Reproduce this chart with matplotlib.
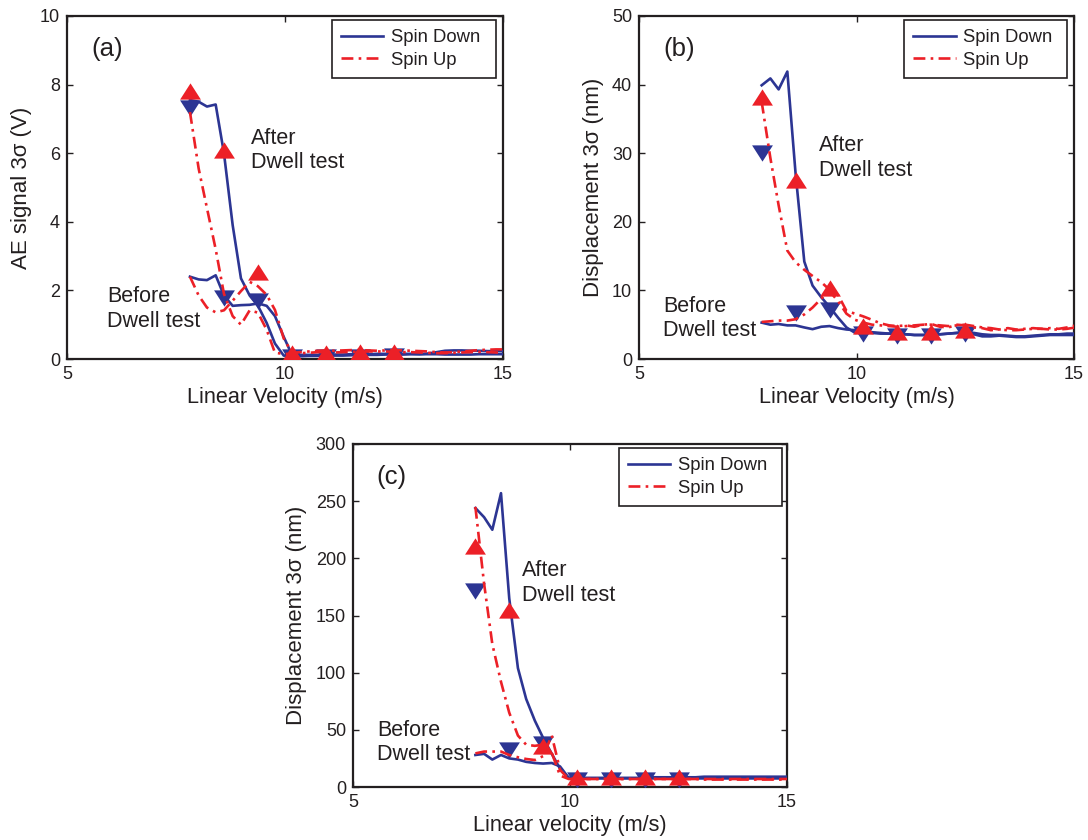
import matplotlib
matplotlib.use("Agg")
import matplotlib.pyplot as plt
from matplotlib.lines import Line2D

# linear velocity grid (m/s) shared by every sweep
velocity = [7.82, 8.02, 8.21, 8.41, 8.60, 8.80, 8.99, 9.19, 9.38, 9.58,
            9.77, 9.97, 10.16, 10.36, 10.55, 10.75, 10.94, 11.14, 11.33, 11.53,
            11.72, 11.92, 12.11, 12.31, 12.50, 12.70, 12.89, 13.09, 13.28, 13.48,
            13.67, 13.87, 14.06, 14.26, 14.45, 14.65, 14.84, 15.04]
# velocities where the averaged points are marked
marker_velocity = [7.82, 8.60, 9.38, 10.16, 10.94, 11.72, 12.50]

# (a) AE signal 3sigma (V)
ae_down_after = [7.55, 7.50, 7.36, 7.42, 6.00, 3.90, 2.35, 1.85, 1.55, 1.05,
                 0.45, 0.10, 0.08, 0.08, 0.09, 0.09, 0.10, 0.10, 0.10, 0.11,
                 0.11, 0.12, 0.12, 0.13, 0.13, 0.13, 0.14, 0.14, 0.16, 0.20,
                 0.24, 0.25, 0.25, 0.24, 0.24, 0.23, 0.23, 0.23]
ae_down_before = [2.40, 2.32, 2.30, 2.44, 1.85, 1.55, 1.57, 1.58, 1.62, 1.55,
                  1.25, 0.65, 0.12, 0.12, 0.12, 0.12, 0.13, 0.13, 0.13, 0.14,
                  0.14, 0.14, 0.15, 0.15, 0.15, 0.15, 0.15, 0.14, 0.14, 0.14,
                  0.13, 0.13, 0.13, 0.13, 0.14, 0.14, 0.14, 0.14]
ae_up_after = [7.20, 5.55, 4.40, 3.20, 1.90, 1.25, 1.00, 1.42, 1.35, 0.85,
               0.18, 0.15, 0.15, 0.17, 0.18, 0.20, 0.20, 0.19, 0.20, 0.21,
               0.21, 0.22, 0.22, 0.22, 0.21, 0.20, 0.20, 0.19, 0.18, 0.17,
               0.17, 0.18, 0.19, 0.20, 0.21, 0.20, 0.19, 0.18]
ae_up_before = [2.40, 1.85, 1.50, 1.36, 1.42, 1.70, 1.98, 2.25, 2.12, 1.87,
                1.43, 0.60, 0.18, 0.20, 0.22, 0.24, 0.25, 0.24, 0.25, 0.26,
                0.26, 0.25, 0.24, 0.25, 0.26, 0.25, 0.24, 0.23, 0.22, 0.20,
                0.19, 0.20, 0.22, 0.24, 0.26, 0.27, 0.28, 0.28]
ae_down_marks = [7.31, 1.77, 1.68, 0.05, 0.06, 0.07, 0.08]
ae_up_marks = [7.80, 6.10, 2.55, 0.18, 0.18, 0.20, 0.20]

# (b) displacement 3sigma (nm)
db_down_after = [39.9, 40.9, 39.3, 41.9, 27.0, 14.2, 10.7, 9.0, 7.6, 6.0,
                 4.6, 3.8, 3.9, 3.8, 3.7, 3.7, 3.6, 3.6, 3.5, 3.5,
                 3.5, 3.6, 3.7, 3.8, 3.9, 3.6, 3.3, 3.3, 3.4, 3.3,
                 3.2, 3.2, 3.3, 3.4, 3.5, 3.5, 3.5, 3.5]
db_down_before = [5.3, 5.0, 5.1, 4.9, 4.9, 4.6, 4.35, 4.7, 4.8, 4.5,
                  4.3, 4.2, 4.0, 3.9, 3.8, 3.7, 3.7, 3.6, 3.5, 3.5,
                  3.6, 3.6, 3.7, 3.8, 3.9, 3.8, 3.6, 3.5, 3.5, 3.4,
                  3.3, 3.3, 3.4, 3.5, 3.6, 3.6, 3.7, 3.7]
db_up_after = [37.5, 29.3, 22.4, 15.8, 14.1, 13.0, 12.1, 11.2, 10.1, 9.3,
               7.0, 6.6, 6.2, 5.7, 5.2, 4.9, 4.8, 4.9, 4.7, 5.0,
               5.1, 4.7, 4.6, 5.0, 4.9, 4.6, 4.5, 4.2, 4.3, 4.5,
               4.3, 4.4, 4.5, 4.4, 4.5, 4.4, 4.6, 4.9]
db_up_before = [5.4, 5.5, 5.6, 5.6, 5.8, 6.5, 7.5, 8.8, 9.9, 8.4,
                6.6, 5.7, 5.3, 5.0, 4.9, 4.8, 4.7, 4.8, 4.9, 5.0,
                5.0, 4.9, 4.8, 4.9, 5.0, 4.8, 4.6, 4.5, 4.3, 4.2,
                4.2, 4.3, 4.4, 4.4, 4.3, 4.3, 4.4, 4.6]
db_down_marks = [30.0, 6.7, 7.1, 3.7, 3.3, 3.3, 3.6]
db_up_marks = [38.2, 26.1, 10.3, 4.8, 3.9, 3.9, 4.2]

# (c) displacement 3sigma (nm)
dc_down_after = [244, 236, 225, 257, 165, 104, 77, 58, 43, 29,
                 16, 8, 8, 8, 8, 8, 8, 8, 8, 8,
                 8, 8.5, 8.5, 8.5, 8.5, 8.5, 8.5, 9, 9, 9,
                 9, 9, 9, 9, 9, 9, 9, 9]
dc_down_before = [28, 29, 24, 28, 25, 24, 22, 21, 20.5, 21,
                  18, 8, 7.5, 7.5, 7.5, 7.5, 7.5, 7.5, 7.5, 7.5,
                  7.5, 7.5, 7.5, 7.5, 7.5, 7.5, 7.5, 7.5, 7.5, 7.5,
                  7.5, 7.5, 7.5, 7.5, 7.5, 7.5, 7.5, 7.5]
dc_up_after = [245, 178, 125, 92, 65, 45, 37, 36, 37, 30,
               10, 7, 7, 7, 7, 7, 7, 7, 7, 7,
               7, 7, 7, 7, 7, 7, 7, 6.5, 6.5, 6.5,
               6.5, 6.5, 6.5, 6.5, 6.5, 6.5, 6.5, 6.5]
dc_up_before = [29.4, 31, 31, 31, 28, 26, 24.5, 23.6, 27, 45,
                15, 7, 7, 7, 7, 7, 7, 7, 7, 7,
                7, 7, 7, 7, 7, 7, 7, 7, 7, 7,
                7, 7, 7, 7, 7, 7, 7, 7]
dc_down_marks = [171, 32, 38, 6, 6, 6, 6]
dc_up_marks = [211, 155, 36, 9, 9, 9, 9]

BLUE = '#2c3593'
RED = '#ec2027'
INK = '#231f20'
LW = 1.9
DASHDOT = (0, (4.5, 2, 1, 2))
# wide, flat triangles
TRI_UP = [(-1, -0.78), (1, -0.78), (0, 0.78), (-1, -0.78)]
TRI_DOWN = [(-1, 0.78), (1, 0.78), (0, -0.78), (-1, 0.78)]

plt.rcParams.update({'font.family': ['Liberation Sans', 'DejaVu Sans'],
                     'font.size': 12, 'text.color': INK,
                     'axes.linewidth': 1.6, 'axes.edgecolor': INK,
                     'axes.labelcolor': INK})

fig = plt.figure(figsize=(10.88, 8.4), dpi=100)
ax_a = fig.add_axes([67/1088, 481/840, 436/1088, 343/840])
ax_b = fig.add_axes([639/1088, 481/840, 435/1088, 343/840])
ax_c = fig.add_axes([353/1088, 53/840, 434/1088, 343/840])


def panel(ax, down_after, down_before, up_after, up_before, down_marks, up_marks,
          ymax, ystep, ylab, xlab, tag, after_y, after_x, before_x, before_y, leg_x0):
    for ys in (down_after, down_before):
        ax.plot(velocity, ys, color=BLUE, lw=LW, zorder=3)
    ax.plot(marker_velocity, down_marks, ls='none', marker=TRI_DOWN, ms=15,
            color=BLUE, mew=0, zorder=4)
    for ys in (up_after, up_before):
        ax.plot(velocity, ys, color=RED, lw=LW, ls=DASHDOT, zorder=5)
    ax.plot(marker_velocity, up_marks, ls='none', marker=TRI_UP, ms=15,
            color=RED, mew=0, zorder=6)

    ax.set_xlim(5, 15)
    ax.set_ylim(0, ymax)
    ax.set_xticks([5, 10, 15])
    ax.set_yticks(list(range(0, ymax + 1, ystep)))
    ax.tick_params(direction='in', top=True, right=True, length=4, width=1,
                   labelsize=13, pad=5, color=INK, labelcolor=INK)
    ax.set_xlabel(xlab, fontsize=15.6, labelpad=3)
    ax.set_ylabel(ylab, fontsize=16, labelpad=6)

    ax.text(0.055, 0.905, tag, transform=ax.transAxes, fontsize=18.5,
            ha='left', va='center')
    ax.text(after_x, after_y, 'After\nDwell test', transform=ax.transAxes,
            fontsize=15.5, ha='left', va='center', linespacing=1.2)
    ax.text(before_x, before_y, 'Before\nDwell test', transform=ax.transAxes,
            fontsize=15.5, ha='left', va='center', linespacing=1.2)

    handles = [Line2D([], [], color=BLUE, lw=LW),
               Line2D([], [], color=RED, lw=LW, ls=DASHDOT)]
    leg = ax.legend(handles, ['Spin Down', 'Spin Up'], loc='upper right',
                    bbox_to_anchor=(leg_x0, 0.5, 0.376, 0.488), mode='expand',
                    borderaxespad=0, fontsize=13.3, fancybox=False,
                    framealpha=1, edgecolor=INK, handlelength=2.3,
                    handletextpad=0.4, labelspacing=0.3, borderpad=0.5)
    leg.get_frame().set_linewidth(1.2)


panel(ax_a, ae_down_after, ae_down_before, ae_up_after, ae_up_before,
      ae_down_marks, ae_up_marks, 10, 2, 'AE signal 3σ (V)',
      'Linear Velocity (m/s)', '(a)', 0.609, 0.422, 0.092, 0.146, 0.607)
panel(ax_b, db_down_after, db_down_before, db_up_after, db_up_before,
      db_down_marks, db_up_marks, 50, 10, 'Displacement 3σ (nm)',
      'Linear Velocity (m/s)', '(b)', 0.586, 0.414, 0.055, 0.117, 0.609)
panel(ax_c, dc_down_after, dc_down_before, dc_up_after, dc_up_before,
      dc_down_marks, dc_up_marks, 300, 50, 'Displacement 3σ (nm)',
      'Linear velocity (m/s)', '(c)', 0.595, 0.389, 0.055, 0.130, 0.612)

fig.savefig('out.png', dpi=100)
